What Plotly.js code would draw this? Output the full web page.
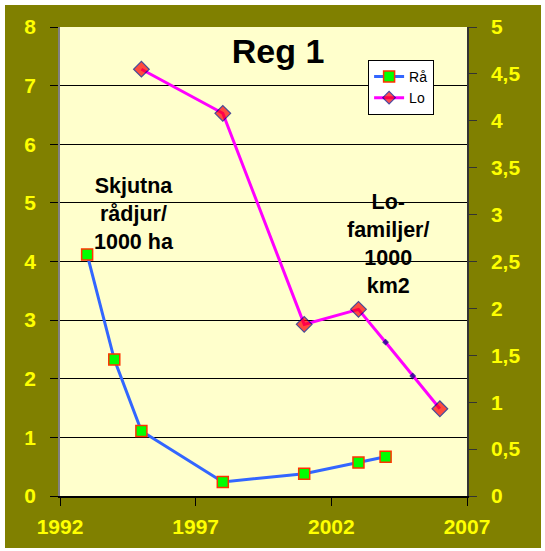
<!DOCTYPE html>
<html><head><meta charset="utf-8">
<script src="https://cdn.plot.ly/plotly-3.0.1.min.js"></script>
<style>html,body{margin:0;padding:0;background:#fff;}#c{position:absolute;left:5px;top:5px;width:536px;height:543px;}</style>
</head><body><div id="c"></div>
<script>
const yearsRa = [1993, 1994, 1995, 1998, 2001, 2003, 2004];
const ra = [4.12, 2.33, 1.11, 0.24, 0.38, 0.57, 0.67];
const yearsLo = [1995, 1998, 2001, 2003, 2004, 2005, 2006];
const lo = [4.55, 4.08, 1.83, 1.99, 1.64, 1.28, 0.93];
const loMinorYears = [2004, 2005];
const leftTicks = [0, 1, 2, 3, 4, 5, 6, 7, 8];
const rightTicks = [0, 0.5, 1, 1.5, 2, 2.5, 3, 3.5, 4, 4.5, 5];
const rightTickText = ["0", "0,5", "1", "1,5", "2", "2,5", "3", "3,5", "4", "4,5", "5"];
const xTicks = [1992, 1997, 2002, 2007];

const tickFont = {family: "Liberation Sans, Arial, sans-serif", size: 21, color: "#FFFF00", weight: "bold"};

const traces = [
  {x: yearsRa, y: ra, name: "Rå", type: "scatter", mode: "lines+markers",
   line: {color: "#3366FF", width: 3},
   marker: {symbol: "square", size: 11, color: "#00FF00", line: {color: "#FF3300", width: 1.5}}},
  {x: yearsLo, y: lo, name: "Lo", type: "scatter", mode: "lines+markers", yaxis: "y2",
   line: {color: "#FF00FF", width: 3},
   marker: {symbol: "diamond", size: yearsLo.map(y => loMinorYears.includes(y) ? 4 : 12),
            color: yearsLo.map(y => loMinorYears.includes(y) ? "#000080" : "#FF0000"),
            line: {color: "#000080", width: 1.2}}}
];

const annFont = {family: "Liberation Sans, Arial, sans-serif", size: 21.5, color: "#000", weight: "bold"};

const layout = {
  width: 536, height: 543,
  margin: {l: 55, r: 74, t: 22, b: 52},
  paper_bgcolor: "#808000", plot_bgcolor: "#FFFFCC",
  showlegend: true,
  separators: ", ",
  title: {text: "Reg 1", font: {family: "Liberation Sans, Arial, sans-serif", size: 34, color: "#000", weight: "bold"},
          x: 273/536, xanchor: "center", y: 1 - 46/543, yanchor: "middle"},
  xaxis: {range: [1992, 2007], tickvals: xTicks, ticks: "outside", ticklen: 8, tickcolor: "#000",
          showline: true, linecolor: "#000", linewidth: 1.5, showgrid: false, zeroline: false,
          tickfont: tickFont, ticklabelstandoff: 3},
  yaxis: {range: [0, 8], tickvals: leftTicks, ticks: "outside", ticklen: 8, tickcolor: "#000",
          showline: true, linecolor: "#808080", linewidth: 1.5, showgrid: true, gridcolor: "#000", gridwidth: 1,
          zeroline: false, tickfont: tickFont, ticklabelstandoff: 10},
  yaxis2: {range: [0, 5], overlaying: "y", side: "right", tickvals: rightTicks, ticktext: rightTickText,
           ticks: "outside", ticklen: 8, tickcolor: "#333", showline: true, linecolor: "#333", linewidth: 1.5,
           showgrid: false, zeroline: false, tickfont: tickFont, ticklabelstandoff: 10},
  legend: {x: 0.757, y: 0.93, xanchor: "left", yanchor: "top", bgcolor: "#FFFFFF", bordercolor: "#000", borderwidth: 1,
           font: {family: "Liberation Sans, Arial, sans-serif", size: 14, color: "#000"},
           itemwidth: 30, tracegroupgap: 0},
  annotations: [
    {text: "Skjutna<br>rådjur/<br>1000 ha", x: 1994.72, y: 4.81, xref: "x", yref: "y", showarrow: false,
     font: annFont, align: "center", xanchor: "center", yanchor: "middle"},
    {text: "Lo-<br>familjer/<br>1000<br>km2", x: 2004.1, y: 4.3, xref: "x", yref: "y", showarrow: false,
     font: annFont, align: "center", xanchor: "center", yanchor: "middle"}
  ]
};

Plotly.newPlot("c", traces, layout, {displayModeBar: false});
</script></body></html>
